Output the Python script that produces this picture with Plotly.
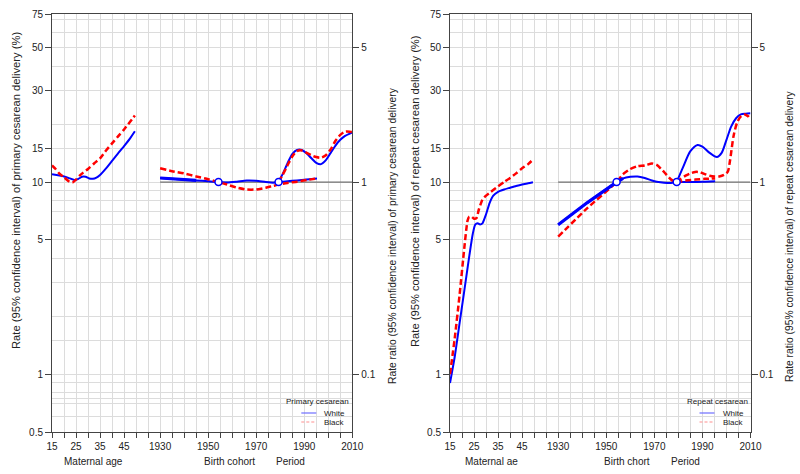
import math
import plotly.graph_objects as go

# ---------------- Primary cesarean (left panel) ----------------
p_age_w_x = [15, 17.5, 20, 22.5, 24.5, 26, 27.5, 29, 30.5, 32, 33.5, 35, 37.5, 40, 42.5, 45, 47.5, 49.5]
p_age_w = [11.0, 10.85, 10.7, 10.45, 10.25, 10.4, 10.65, 10.65, 10.45, 10.4, 10.55, 10.9, 11.8, 12.9, 14.1, 15.4, 16.9, 18.4]
p_age_b_x = [15, 16.5, 18, 20, 22, 23.5, 25, 26.5, 28, 30, 32.5, 35, 37.5, 40, 42.5, 45, 47.5, 49.5]
p_age_b = [12.2, 11.7, 11.1, 10.6, 10.1, 9.95, 10.3, 10.8, 11.2, 11.7, 12.5, 13.3, 14.6, 15.9, 17.3, 18.8, 20.6, 22.2]

p_coh_x = [1930, 1935, 1940, 1945, 1950, 1954.3, 1958, 1962, 1966, 1970, 1974, 1977, 1979.3, 1983, 1987, 1991, 1995.3]
p_coh_w = [1.05, 1.04, 1.03, 1.02, 1.01, 1.0, 0.995, 1.005, 1.018, 1.015, 1.0, 0.993, 0.998, 1.01, 1.02, 1.032, 1.045]
p_coh_b = [1.18, 1.14, 1.11, 1.07, 1.035, 1.0, 0.97, 0.935, 0.915, 0.915, 0.935, 0.955, 0.97, 0.99, 1.005, 1.025, 1.045]

p_per_x = [1979.3, 1981, 1983, 1985, 1987, 1989, 1991, 1993, 1995, 1997, 1999, 2001, 2003, 2005, 2007, 2009, 2010]
p_per_w = [1.0, 1.1, 1.25, 1.4, 1.47, 1.47, 1.41, 1.33, 1.26, 1.24, 1.3, 1.42, 1.55, 1.66, 1.74, 1.79, 1.81]
p_per_b = [1.0, 1.09, 1.22, 1.36, 1.45, 1.46, 1.42, 1.38, 1.35, 1.34, 1.38, 1.48, 1.64, 1.76, 1.83, 1.83, 1.82]

# ---------------- Repeat cesarean (right panel) ----------------
r_age_w_x = [15, 17, 19, 21, 23, 24.5, 25.5, 26.5, 27.5, 28.5, 30, 31.5, 33, 35, 37.5, 40, 42.5, 45, 47.5, 49.5]
r_age_w = [0.9, 1.24, 1.85, 2.75, 4.1, 5.4, 6.0, 6.1, 6.02, 6.1, 6.8, 7.8, 8.5, 8.9, 9.15, 9.35, 9.55, 9.72, 9.85, 9.97]
r_age_b_x = [15, 17, 19, 21, 22.3, 23, 24, 25, 26, 27, 28.5, 30, 32, 35, 37.5, 40, 42.5, 45, 47.5, 49.5]
r_age_b = [1.0, 1.55, 2.6, 4.6, 6.3, 6.6, 6.6, 6.45, 6.5, 7.2, 8.1, 8.5, 8.9, 9.5, 10.0, 10.5, 11.1, 11.8, 12.4, 13.1]

r_coh_x = [1930, 1942, 1954.3, 1957, 1960, 1963, 1966, 1969, 1971, 1974, 1977, 1979.3, 1983, 1987, 1991, 1995.3]
r_coh_w = [0.6, 0.78, 1.0, 1.045, 1.065, 1.07, 1.05, 1.02, 1.005, 0.993, 0.99, 1.0, 1.0, 1.0, 1.005, 1.01]
r_coh_b = [0.52, 0.73, 1.0, 1.1, 1.17, 1.21, 1.22, 1.25, 1.23, 1.13, 1.03, 1.0, 1.02, 1.03, 1.04, 1.045]

r_per_w_x = [1979.3, 1982, 1985, 1988, 1990, 1993, 1996, 1998, 2000, 2002, 2004, 2006, 2008, 2010]
r_per_w = [1.0, 1.2, 1.45, 1.56, 1.53, 1.42, 1.35, 1.42, 1.66, 1.95, 2.15, 2.25, 2.27, 2.28]
r_per_b_x = [1979.3, 1981, 1983, 1985, 1987, 1989, 1991, 1993, 1995, 1997, 1999, 2000.5, 2001.5, 2003, 2004.5, 2006, 2007.5, 2009, 2010]
r_per_b = [1.0, 1.04, 1.08, 1.11, 1.13, 1.125, 1.1, 1.08, 1.07, 1.07, 1.09, 1.13, 1.3, 1.75, 2.05, 2.2, 2.25, 2.2, 2.12]

ref_points = [1954.3, 1979.3]
ref_line_x = [1930, 2010]

# ---------------- axis text ----------------
AGE_OFFSET = 1870  # age a is drawn at position a + 1870 on the shared axis
tick_pos = list(range(1885, 2011, 5))
tick_labels = {1885: "15", 1895: "25", 1905: "35", 1915: "45",
               1930: "1930", 1950: "1950", 1970: "1970", 1990: "1990", 2010: "2010"}
rate_ticks = [0.5, 1, 5, 10, 15, 30, 50, 75]
rate_minor = [0.6, 0.7, 0.75, 0.8, 0.9, 1.5, 2, 3, 4, 6, 7, 8, 9, 20, 40, 60, 70]
ratio_ticks = [0.1, 1, 5]

BLUE = "#0000ff"
RED = "#ff0000"
FONT = "Liberation Sans, Arial, sans-serif"
TXT = "#222222"
GRID = "#dcdcdc"
AX = "#444444"

W, H = 800, 474
y_top, y_bot = 14, 432
panels = [
    dict(x0=52, x1=352.3, xa="x", ya="y", ya2="y2",
         age=(p_age_w_x, p_age_w, p_age_b_x, p_age_b),
         coh=(p_coh_x, p_coh_w, p_coh_b),
         per=(p_per_x, p_per_w, p_per_x, p_per_b),
         leg="Primary cesarean",
         titles=["Maternal age", "Birth cohort", "Period"],
         tpos=[93, 229.5, 290],
         ylab="Rate (95% confidence interval) of primary cesarean delivery (%)",
         y2lab="Rate ratio (95% confidence interval) of primary cesarean delivery",
         ylx=16, y2lx=392),
    dict(x0=450, x1=750.5, xa="x2", ya="y3", ya2="y4",
         age=(r_age_w_x, r_age_w, r_age_b_x, r_age_b),
         coh=(r_coh_x, r_coh_w, r_coh_b),
         per=(r_per_w_x, r_per_w, r_per_b_x, r_per_b),
         leg="Repeat cesarean",
         titles=["Maternal ae", "Birth chort", "Period"],
         tpos=[491, 627.3, 685],
         ylab="Rate (95% confidence interval) of repeat cesarean delivery (%)",
         y2lab="Rate ratio (95% confidence interval) of repeat cesarean delivery",
         ylx=415, y2lx=789),
]

fig = go.Figure()
dash_red = "6px,3px"

for p in panels:
    xa, ya, ya2 = p["xa"], p["ya"], p["ya2"]
    aw_x, aw, ab_x, ab = p["age"]
    fig.add_trace(go.Scatter(x=ref_line_x, y=[1, 1], xaxis=xa, yaxis=ya2, mode="lines",
                             line=dict(color="#555555", width=1), showlegend=False, hoverinfo="skip"))
    fig.add_trace(go.Scatter(x=[a + AGE_OFFSET for a in aw_x], y=aw, xaxis=xa, yaxis=ya, mode="lines",
                             line=dict(color=BLUE, width=2, shape="spline", smoothing=0.6), showlegend=False))
    fig.add_trace(go.Scatter(x=[a + AGE_OFFSET for a in ab_x], y=ab, xaxis=xa, yaxis=ya, mode="lines",
                             line=dict(color=RED, width=2.5, dash=dash_red, shape="spline", smoothing=0.6),
                             showlegend=False))
    cx, cw, cb = p["coh"]
    fig.add_trace(go.Scatter(x=cx, y=cw, xaxis=xa, yaxis=ya2, mode="lines",
                             line=dict(color=BLUE, width=2, shape="spline", smoothing=0.6), showlegend=False))
    fig.add_trace(go.Scatter(x=cx, y=cb, xaxis=xa, yaxis=ya2, mode="lines",
                             line=dict(color=RED, width=2.5, dash=dash_red, shape="spline", smoothing=0.6),
                             showlegend=False))
    fig.add_trace(go.Scatter(x=cx[:4], y=cw[:4], xaxis=xa, yaxis=ya2, mode="lines",
                             line=dict(color=BLUE, width=3.2), showlegend=False))
    pwx, pw, pbx, pb = p["per"]
    fig.add_trace(go.Scatter(x=pwx, y=pw, xaxis=xa, yaxis=ya2, mode="lines",
                             line=dict(color=BLUE, width=2, shape="spline", smoothing=0.8), showlegend=False))
    fig.add_trace(go.Scatter(x=pbx, y=pb, xaxis=xa, yaxis=ya2, mode="lines",
                             line=dict(color=RED, width=2.5, dash=dash_red, shape="spline", smoothing=0.8),
                             showlegend=False))
    fig.add_trace(go.Scatter(x=ref_points, y=[1, 1], xaxis=xa, yaxis=ya2, mode="markers",
                             marker=dict(size=7, color="white", line=dict(color=BLUE, width=1.5)),
                             showlegend=False))

layout = dict(template="none", width=W, height=H, margin=dict(l=0, r=0, t=0, b=0, autoexpand=False),
              paper_bgcolor="white", plot_bgcolor="white", showlegend=False,
              font=dict(family=FONT, size=10, color=TXT))

ydom = [1 - y_bot / H, 1 - y_top / H]
rate_range = [math.log10(0.5), math.log10(75)]
ratio_range = [math.log10(0.05), math.log10(7.5)]

annotations = []
shapes = []
for i, p in enumerate(panels):
    xk = "xaxis" if i == 0 else "xaxis2"
    yk = "yaxis" if i == 0 else "yaxis3"
    y2k = "yaxis2" if i == 0 else "yaxis4"
    yname = "y" if i == 0 else "y3"
    xname = "x" if i == 0 else "x2"
    layout[xk] = dict(domain=[p["x0"] / W, p["x1"] / W], range=[1885, 2010], anchor=yname,
                      automargin=False,
                      tickmode="array", tickvals=tick_pos,
                      ticktext=[tick_labels.get(t, "") for t in tick_pos],
                      ticks="outside", ticklen=5, tickcolor=AX, tickwidth=1,
                      showline=True, linecolor=AX, linewidth=1, mirror=True,
                      showgrid=True, gridcolor=GRID, gridwidth=1, zeroline=False,
                      tickfont=dict(size=10, color=TXT), fixedrange=True)
    layout[yk] = dict(domain=ydom, type="log", range=rate_range, anchor=xname, automargin=False,
                      tickmode="array", tickvals=rate_ticks, ticktext=[str(t) for t in rate_ticks],
                      ticks="outside", ticklen=6, tickcolor=AX,
                      showline=True, linecolor=AX, linewidth=1,
                      showgrid=True, gridcolor=GRID, gridwidth=1, zeroline=False,
                      minor=dict(tickvals=rate_minor, showgrid=True, gridcolor=GRID, ticks=""),
                      tickfont=dict(size=10, color=TXT), fixedrange=True)
    layout[y2k] = dict(type="log", range=ratio_range, overlaying=yname, side="right", anchor=xname,
                       automargin=False,
                       tickmode="array", tickvals=ratio_ticks, ticktext=["0.1", "1", "5"],
                       ticks="outside", ticklen=6, tickcolor=AX,
                       showline=True, linecolor=AX, linewidth=1, showgrid=False, zeroline=False,
                       tickfont=dict(size=10, color=TXT), fixedrange=True)
    for t, xp in zip(p["titles"], p["tpos"]):
        annotations.append(dict(text=t, x=xp / W, y=1 - 461.5 / H, xref="paper", yref="paper",
                                showarrow=False, xanchor="center", yanchor="middle",
                                font=dict(size=10, color=TXT)))
    annotations.append(dict(text=p["ylab"], x=p["ylx"] / W, y=1 - 191 / H, xref="paper", yref="paper",
                            showarrow=False, textangle=-90, xanchor="center", yanchor="middle",
                            font=dict(size=11.2, color=TXT)))
    annotations.append(dict(text=p["y2lab"], x=p["y2lx"] / W, y=1 - 236 / H, xref="paper", yref="paper",
                            showarrow=False, textangle=-90, xanchor="center", yanchor="middle",
                            font=dict(size=10.3, color=TXT)))
    xr = p["x1"]
    annotations.append(dict(text=p["leg"], x=(xr - 1) / W, y=1 - 401.5 / H, xref="paper", yref="paper",
                            showarrow=False, xanchor="right", yanchor="middle",
                            font=dict(size=8, color=TXT)))
    lx0 = xr - 51
    for lbl, col, dash, yy in [("White", "#6f6fff", "solid", 413), ("Black", "#ff8f8f", "3px,2px", 422)]:
        shapes.append(dict(type="line", xref="paper", yref="paper", x0=lx0 / W, x1=(lx0 + 15) / W,
                           y0=1 - yy / H, y1=1 - yy / H, line=dict(color=col, width=1.2, dash=dash)))
        annotations.append(dict(text=lbl, x=(lx0 + 21) / W, y=1 - yy / H, xref="paper", yref="paper",
                                showarrow=False, xanchor="left", yanchor="middle",
                                font=dict(size=8, color=TXT)))

layout["annotations"] = annotations
layout["shapes"] = shapes
fig.update_layout(**layout)
fig.write_html("out.html", config={"displayModeBar": False},
               post_script="document.body.style.margin='0px';document.body.style.overflow='hidden';")
